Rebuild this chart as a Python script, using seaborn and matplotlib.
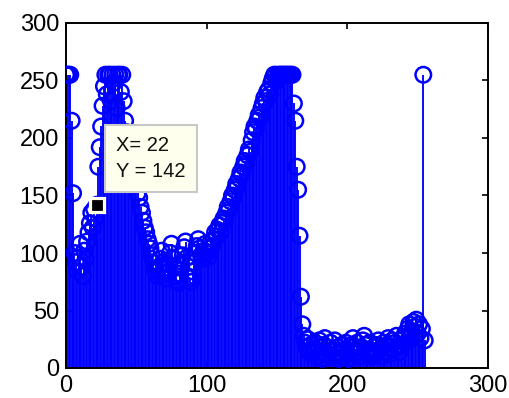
import numpy as np
import pandas as pd
import matplotlib
matplotlib.use("Agg")
import matplotlib.pyplot as plt
import seaborn as sns

# ---- data ----
x_values = list(range(256))
y_values = [
    255, 255, 255, 255, 215, 152, 100, 92, 84, 96, 108, 88, 80, 102, 95, 110,
    118, 126, 135, 122, 138, 130, 142, 175, 192, 210, 228, 245, 255, 238, 255, 255,
    232, 255, 248, 255, 226, 255, 255, 240, 255, 232, 215, 205, 200, 195, 185, 178,
    170, 165, 160, 152, 148, 140, 135, 128, 122, 118, 112, 108, 104, 98, 92, 86,
    84, 80, 88, 95, 102, 92, 86, 78, 82, 90, 100, 108, 96, 88, 80, 76,
    74, 82, 90, 98, 105, 110, 96, 88, 78, 75, 84, 92, 100, 106, 112, 104,
    98, 95, 102, 108, 100, 96, 104, 110, 106, 112, 118, 114, 120, 124, 118, 126,
    130, 128, 135, 140, 138, 145, 150, 148, 155, 160, 158, 165, 170, 168, 175, 180,
    178, 185, 190, 188, 198, 205, 210, 208, 215, 220, 218, 226, 230, 235, 232, 240,
    242, 238, 248, 252, 255, 255, 250, 255, 255, 255, 255, 255, 255, 255, 255, 255,
    255, 255, 230, 215, 175, 155, 115, 62, 38, 28, 22, 18, 25, 14, 20, 12,
    16, 22, 10, 18, 24, 14, 8, 20, 26, 12, 18, 15, 22, 10, 16, 24,
    12, 18, 8, 14, 20, 10, 16, 22, 12, 8, 15, 20, 26, 18, 12, 22,
    14, 10, 18, 24, 28, 20, 12, 16, 22, 10, 14, 18, 12, 20, 24, 16,
    10, 18, 22, 14, 20, 26, 12, 18, 24, 16, 22, 28, 18, 14, 24, 20,
    26, 30, 22, 34, 38, 28, 32, 40, 36, 42, 30, 38, 26, 34, 255, 24,
]
x_ticks = [0, 100, 200, 300]
y_ticks = [0, 50, 100, 150, 200, 250, 300]
tip_x = 22
tip_y = 142

df = pd.DataFrame({"x": x_values, "y": y_values})

sns.set_style("white")
plt.rcParams["font.family"] = ["Liberation Sans", "DejaVu Sans"]

fig = plt.figure(figsize=(5.09, 3.98), dpi=100)
ax = fig.add_axes([66 / 509, 30 / 398, 422 / 509, 345 / 398])

blue = (0, 0, 1)
ax.vlines(df["x"], 0, df["y"], colors=[blue], linewidth=1.35, zorder=2)
sns.scatterplot(data=df, x="x", y="y", ax=ax, marker="o", s=125,
                facecolors="none", edgecolor=blue, linewidth=1.8, zorder=3,
                legend=False)

ax.set_xlim(0, 300)
ax.set_ylim(0, 300)
ax.set_xticks(x_ticks)
ax.set_yticks(y_ticks)
ax.set_xticklabels([str(t) for t in x_ticks])
ax.set_yticklabels([str(t) for t in y_ticks])
ax.set_xlabel("")
ax.set_ylabel("")
ax.tick_params(direction="in", length=4, width=1.2, labelsize=17,
               top=True, right=True, bottom=True, left=True, pad=5,
               colors="black")
for sp in ax.spines.values():
    sp.set_visible(True)
    sp.set_color("black")
    sp.set_linewidth(1.4)

# data tip
ax.plot([tip_x], [tip_y], marker="s", markersize=10.5, markerfacecolor="black",
        markeredgecolor="#FFFFE8", markeredgewidth=2.3, zorder=5, clip_on=False)
ax.annotate(f"X= {tip_x}\nY = {tip_y}", xy=(tip_x, tip_y), xycoords="data",
            xytext=(14, 17), textcoords="offset points",
            ha="left", va="bottom", fontsize=14.5, linespacing=1.45,
            color="#111111", zorder=6,
            bbox=dict(boxstyle="square,pad=0.55", fc="#FFFFEE", ec="#C8C8C8", lw=1.5))

fig.savefig("out.png", dpi=100, facecolor="white")
